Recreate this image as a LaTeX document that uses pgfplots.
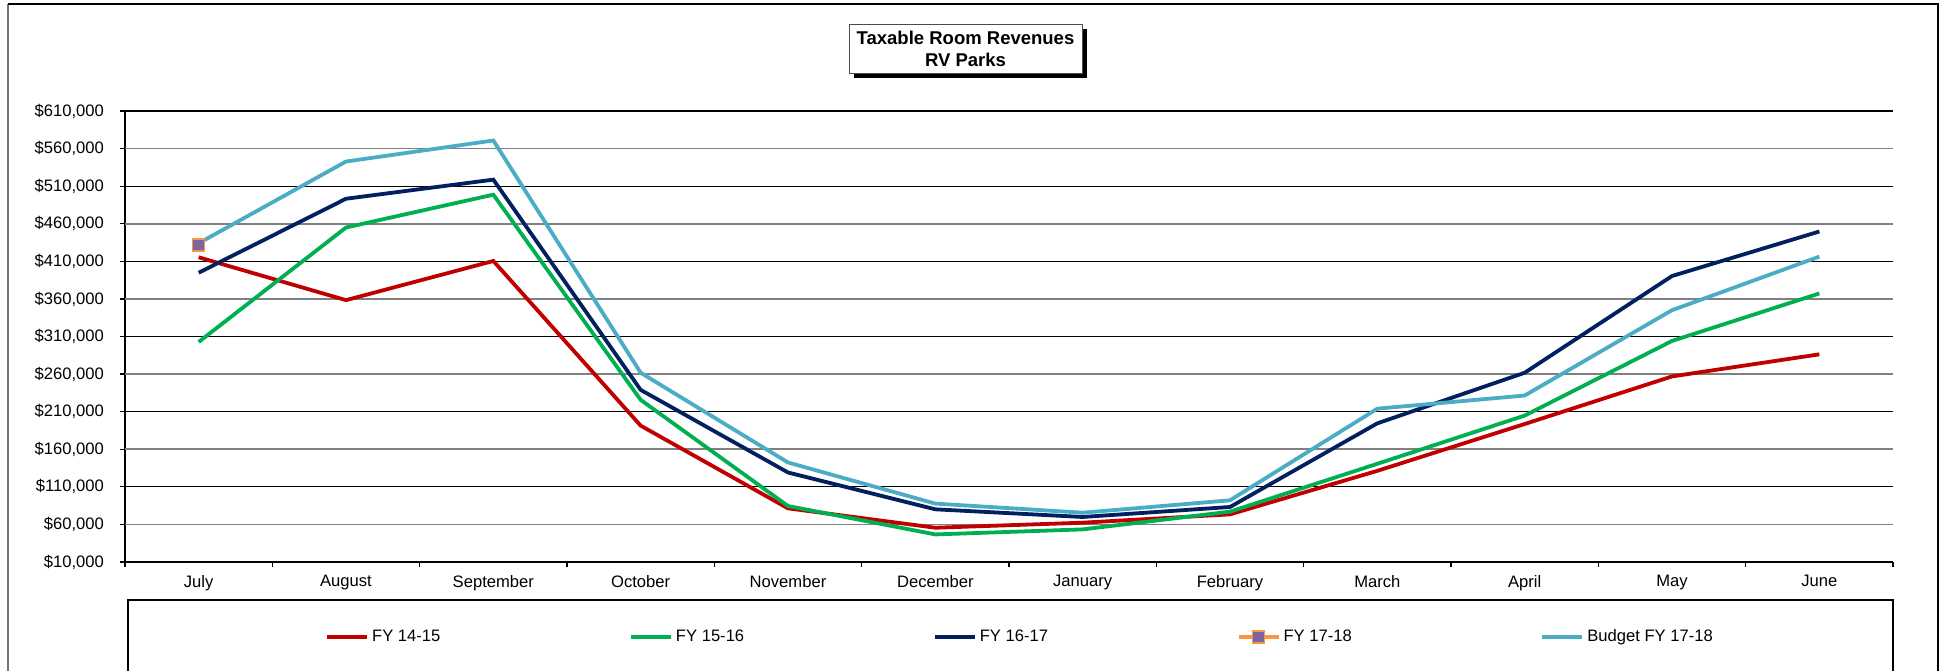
\documentclass[border=0pt]{standalone}
\usepackage{pgfplots}
\pgfplotsset{compat=1.18}
\usepackage{fontspec}
\setmainfont{Liberation Sans}
\definecolor{cRed}{HTML}{C00000}
\definecolor{cGreen}{HTML}{00B050}
\definecolor{cNavy}{HTML}{002060}
\definecolor{cBlue}{HTML}{4BACC6}
\definecolor{cOrange}{HTML}{F79646}
\definecolor{cPurple}{HTML}{8064A2}
\begin{document}
\begin{tikzpicture}[x=0.5pt,y=-0.5pt]
\useasboundingbox (0,0) rectangle (1949,670);
% outer frame
\draw[black!55, line width=1.4pt] (8,4) -- (8,671);
\draw[black, line width=0.6pt] (8,4) -- (1938,4) -- (1938,671);
% legend frame
\draw[black, line width=0.6pt] (128,671) -- (128,600) -- (1893,600) -- (1893,671);
% title box
\fill[black] (854,29) rectangle (1087,78);
\draw[black!70, fill=white, line width=0.5pt] (849,24) rectangle (1082,73);
\node[align=center, font=\fontsize{9.25}{11}\selectfont\bfseries, inner sep=0pt] at (965.5,48.5) {Taxable Room Revenues\\RV Parks};
\begin{axis}[
  at={(62.5pt,-281pt)}, anchor=south west,
  scale only axis, width=884pt, height=225.5pt,
  xmin=-0.5, xmax=11.5, ymin=10000, ymax=610000,
  scaled y ticks=false,
  axis x line*=bottom, axis y line*=left,
  axis line style={-, black, line width=0.6pt},
  xtick={-0.5,0.5,...,11.5}, xticklabels={},
  extra x ticks={0,1,2,3,4,5,6,7,8,9,10,11},
  extra x tick labels={July,August,September,October,November,December,January,February,March,April,May,June},
  extra x tick style={major tick length=0pt, xticklabel style={yshift=-3pt}},
  ytick={10000,110000,210000,310000,410000,510000,610000},
  yticklabels={{\$10,000},{\$110,000},{\$210,000},{\$310,000},{\$410,000},{\$510,000},{\$610,000}},
  extra y ticks={60000,160000,260000,360000,460000,560000},
  extra y tick labels={{\$60,000},{\$160,000},{\$260,000},{\$360,000},{\$460,000},{\$560,000}},
  extra y tick style={grid=major, major grid style={black!50, line width=0.9pt}},
  ymajorgrids, major grid style={black, line width=0.6pt},
  tick align=outside, major tick length=2.5pt,
  tick style={black, line width=0.6pt},
  tick label style={font=\fontsize{8.3}{10}\selectfont},
  yticklabel style={xshift=-4.5pt},
  clip=false,
  legend columns=5,
  legend style={draw=none, fill=none, at={(0.1131,-0.166)}, anchor=west,
    font=\fontsize{8.3}{10}\selectfont, inner sep=0pt,
    nodes={inner xsep=1.5pt, inner ysep=1pt},
    /tikz/every even column/.append style={column sep=2pt}},
  legend image code/.code={\draw[mark repeat=2,mark phase=2,#1] plot coordinates {(0pt,0pt) (10pt,0pt) (20pt,0pt)};},
]
\addplot[cRed, line width=1.9pt, mark=none] coordinates {
(0,415400) (1,358400) (2,410500) (3,191400) (4,81400) (5,55600)
(6,62300) (7,73400) (8,131300) (9,193600) (10,256900) (11,286300)};
\addlegendentry{\makebox[125pt][l]{FY 14-15}}
\addplot[cGreen, line width=1.9pt, mark=none] coordinates {
(0,302700) (1,455000) (2,498700) (3,225700) (4,84500) (5,46700)
(6,53400) (7,77000) (8,140700) (9,204800) (10,304100) (11,367300)};
\addlegendentry{\makebox[125pt][l]{FY 15-16}}
\addplot[cNavy, line width=1.9pt, mark=none] coordinates {
(0,394900) (1,493300) (2,518700) (3,239000) (4,129100) (5,80100)
(6,69900) (7,83200) (8,194500) (9,261800) (10,390500) (11,449700)};
\addlegendentry{\makebox[125pt][l]{FY 16-17}}
\addplot[cOrange, line width=1.9pt, mark=square*, mark size=3pt,
  mark options={fill=cPurple, draw=cOrange, line width=0.8pt}] coordinates {
(0,432000)};
\addlegendentry{\makebox[125pt][l]{FY 17-18}}
\addplot[cBlue, line width=1.9pt, mark=none] coordinates {
(0,434100) (1,542800) (2,570800) (3,261800) (4,142400) (5,87700)
(6,75600) (7,92100) (8,214000) (9,231500) (10,345000) (11,416300)};
\addlegendentry{\makebox[125pt][l]{Budget FY 17-18}}
\end{axis}
\end{tikzpicture}
\end{document}
